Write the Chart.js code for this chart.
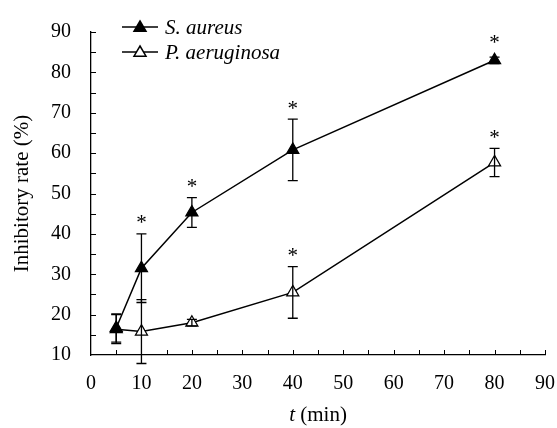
<!DOCTYPE html>
<html>
<head>
<meta charset="utf-8">
<script src="https://cdn.jsdelivr.net/npm/chart.js@4/dist/chart.umd.min.js"></script>
<style>
  html, body { margin: 0; padding: 0; background: #fff; }
  #wrap { width: 557px; height: 428px; }
</style>
</head>
<body>
<div id="wrap"><canvas id="chart"></canvas></div>
<script>
const times = [5, 10, 20, 40, 80]
const saureus = [16.7, 31.5, 45.3, 60.8, 83.0]
const saureusErr = [3.5, 8.5, 3.7, 7.6, 0.8]
const saureusSig = [false, true, true, true, true]
const paeru = [16.4, 15.8, 18.0, 25.5, 57.7]
const paeruErr = [3.6, 7.9, 0.8, 6.4, 3.5]
const paeruSig = [false, false, false, true, true]
const seriesNames = ['S. aureus', 'P. aeruginosa']

const font = 'Liberation Serif'

// error bars, asterisks, inward ticks, x title and the legend
const extras = {
  id: 'extras',
  afterDatasetsDraw(chart) {
    const { ctx, scales: { x, y } } = chart
    const errs = [saureusErr, paeruErr]
    const sigs = [saureusSig, paeruSig]
    ctx.save()
    ctx.strokeStyle = '#000'
    ctx.lineWidth = 1.3
    chart.data.datasets.forEach((ds, i) => {
      ds.data.forEach((p, j) => {
        const px = x.getPixelForValue(p.x)
        const top = y.getPixelForValue(p.y + errs[i][j])
        const bot = y.getPixelForValue(p.y - errs[i][j])
        ctx.beginPath()
        ctx.moveTo(px, top); ctx.lineTo(px, bot)
        ctx.moveTo(px - 5, top); ctx.lineTo(px + 5, top)
        ctx.moveTo(px - 5, bot); ctx.lineTo(px + 5, bot)
        ctx.stroke()
        if (sigs[i][j]) {
          // keep the star clear of the marker when the error bar is short
          const above = Math.min(top, y.getPixelForValue(p.y) - 7)
          ctx.fillStyle = '#000'
          ctx.font = `21px "${font}"`
          ctx.textAlign = 'center'
          ctx.textBaseline = 'middle'
          ctx.fillText('*', px, above - 10)
        }
      })
    })
    ctx.restore()
  },
  afterDraw(chart) {
    const { ctx, scales: { x, y }, chartArea } = chart
    ctx.save()
    ctx.strokeStyle = '#000'
    ctx.lineWidth = 1
    ctx.beginPath()
    for (let v = 5; v <= 90; v += 5) {
      const px = Math.round(x.getPixelForValue(v)) + 0.5
      ctx.moveTo(px, chartArea.bottom); ctx.lineTo(px, chartArea.bottom - 5)
    }
    for (let v = 15; v <= 90; v += 5) {
      const py = Math.round(y.getPixelForValue(v)) + 0.5
      ctx.moveTo(chartArea.left, py); ctx.lineTo(chartArea.left + 5, py)
    }
    ctx.stroke()

    // x title with italic t
    ctx.fillStyle = '#000'
    ctx.textBaseline = 'middle'
    ctx.textAlign = 'left'
    ctx.font = `italic 21px "${font}"`
    const tW = ctx.measureText('t').width
    ctx.font = `21px "${font}"`
    const restW = ctx.measureText(' (min)').width
    const cx = (chartArea.left + chartArea.right) / 2
    const startX = cx - (tW + restW) / 2
    ctx.font = `italic 21px "${font}"`
    ctx.fillText('t', startX, 415)
    ctx.font = `21px "${font}"`
    ctx.fillText(' (min)', startX + tW, 415)

    // legend
    const lx = chartArea.left + 31
    const rows = [27, 52]
    chart.data.datasets.forEach((ds, i) => {
      const ly = rows[i]
      ctx.lineWidth = 1.5
      ctx.beginPath()
      ctx.moveTo(lx, ly); ctx.lineTo(lx + 36, ly)
      ctx.stroke()
      const r = 6
      ctx.beginPath()
      ctx.moveTo(lx + 18, ly - r)
      ctx.lineTo(lx + 18 + r, ly + r * 0.7)
      ctx.lineTo(lx + 18 - r, ly + r * 0.7)
      ctx.closePath()
      ctx.fillStyle = ds.pointBackgroundColor
      ctx.fill()
      ctx.stroke()
      ctx.fillStyle = '#000'
      ctx.font = `italic 21px "${font}"`
      ctx.textAlign = 'left'
      ctx.textBaseline = 'middle'
      ctx.fillText(seriesNames[i], lx + 43, ly + 1)
    })
    ctx.restore()
  }
}

new Chart(document.getElementById('chart'), {
  type: 'line',
  data: {
    datasets: [
      {
        label: seriesNames[0],
        data: times.map((t, i) => ({ x: t, y: saureus[i] })),
        borderColor: '#000',
        borderWidth: 1.5,
        pointStyle: 'triangle',
        pointRadius: 7,
        pointBackgroundColor: '#000',
        pointBorderColor: '#000',
        pointBorderWidth: 1.2,
      },
      {
        label: seriesNames[1],
        data: times.map((t, i) => ({ x: t, y: paeru[i] })),
        borderColor: '#000',
        borderWidth: 1.5,
        pointStyle: 'triangle',
        pointRadius: 7,
        pointBackgroundColor: '#fff',
        pointBorderColor: '#000',
        pointBorderWidth: 1.2,
      },
    ],
  },
  options: {
    responsive: true,
    maintainAspectRatio: false,
    animation: false,
    layout: { padding: { top: 20, right: 12, left: 0, bottom: 0 } },
    plugins: { legend: { display: false }, tooltip: { enabled: false } },
    scales: {
      x: {
        type: 'linear', min: 0, max: 90,
        grid: { display: false, drawTicks: false },
        border: { display: true, color: '#000', width: 1.3 },
        ticks: { stepSize: 10, padding: 17, color: '#000', font: { family: font, size: 20 } },
        afterFit: (s) => { s.height = 73; s.paddingLeft = 0; s.paddingRight = 0 },
      },
      y: {
        min: 10, max: 90,
        grid: { display: false, drawTicks: false },
        border: { display: true, color: '#000', width: 1.3 },
        ticks: { stepSize: 10, padding: 20, color: '#000', font: { family: font, size: 20 } },
        title: { display: true, text: 'Inhibitory rate (%)', color: '#000', font: { family: font, size: 21 }, padding: { top: 10, bottom: 0 } },
        afterFit: (s) => { s.width = 91 },
      },
    },
  },
  plugins: [extras],
})
</script>
</body>
</html>
